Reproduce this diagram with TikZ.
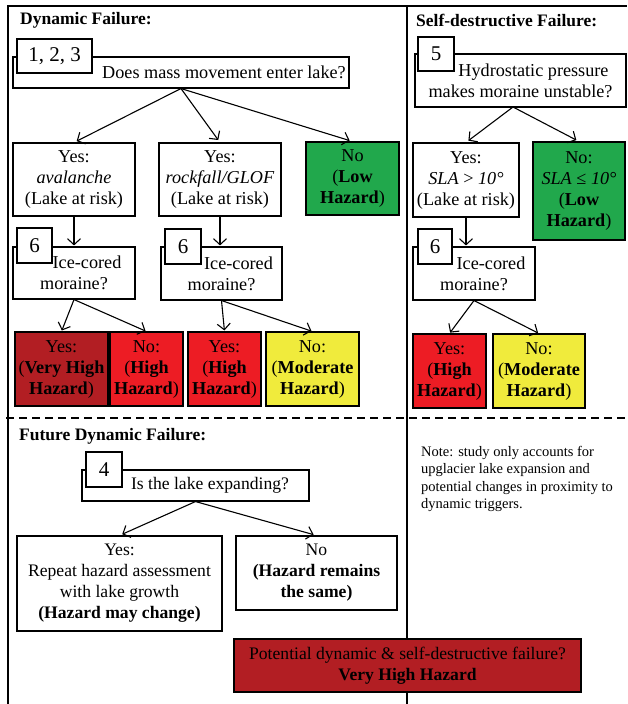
\documentclass[tikz,border=0pt]{standalone}
\usepackage{fontspec}
\setmainfont{Liberation Serif}
\usetikzlibrary{arrows.meta}
\definecolor{dred}{HTML}{B21E23}
\definecolor{hred}{HTML}{ED1C24}
\definecolor{lgreen}{HTML}{21A84C}
\definecolor{myellow}{HTML}{F0EB3C}
\newcommand\fsbox{\fontsize{18.2}{21}\selectfont}
\newcommand\fsboxb{\fontsize{17.6}{21}\selectfont}
\newcommand\fsnum{\fontsize{21}{22}\selectfont}
\newcommand\fshead{\fontsize{17.5}{21}\selectfont\bfseries}
\newcommand\fsnote{\fontsize{14.5}{17.5}\selectfont}
\begin{document}
\begin{tikzpicture}[x=1pt,y=-1pt,
  box/.style={draw=black, line width=1.1pt, fill=white, inner sep=0pt, align=center, font=\fsbox},
  boxb/.style={box, font=\fsboxb},
  numbox/.style={draw=black, line width=2.8pt, fill=white, inner sep=0pt, font=\fsnum},
  head/.style={anchor=west, inner sep=0pt, font=\fshead},
  frame/.style={line width=2.4pt},
  arr/.style={line width=1.1pt, -{Straight Barb[length=6pt,width=13pt,line width=1.1pt]}, shorten >=3pt}]
\useasboundingbox (0,0) rectangle (627,704);
% frame
\draw[frame] (8,704) -- (8,6) -- (627,6);
\draw[frame] (407,6) -- (407,704);
\draw[frame, dash pattern=on 8pt off 5pt] (6,418) -- (627,418);
% headers
\node[head] (h1) at (20,20) {Dynamic Failure:};
\node[head] (h2) at (416,20) {Self-destructive Failure:};
\node[head] (h3) at (19,436) {Future Dynamic Failure:};
% dynamic failure
\node[box, minimum width=336pt, minimum height=31pt] (q1) at (181,72.5) {\hspace*{86pt}Does mass movement enter lake?};
\node[numbox, minimum width=75pt, minimum height=34pt] (n123) at (54.5,56) {1, 2, 3};
\node[box, minimum width=122pt, minimum height=73pt] (yA) at (74,179.5) {Yes:\\\textit{avalanche}\\(Lake at risk)};
\node[box, minimum width=122pt, minimum height=73pt] (yR) at (220,179.5) {Yes:\\\textit{rockfall/GLOF}\\(Lake at risk)};
\node[box, fill=lgreen, minimum width=93pt, minimum height=73pt] (noL) at (352.5,178.5) {No\\(\textbf{Low}\\\textbf{Hazard})};
\node[box, minimum width=122pt, minimum height=52pt] (ice1) at (74,273) {\hspace*{26pt}Ice-cored\\moraine?};
\node[numbox, minimum width=35pt, minimum height=35pt] (n6a) at (34.5,245.5) {6};
\node[box, minimum width=121pt, minimum height=53pt] (ice2) at (221.5,273.5) {\hspace*{34pt}Ice-cored\\moraine?};
\node[numbox, minimum width=36pt, minimum height=35pt] (n6b) at (183,246.5) {6};
\node[box, fill=dred, minimum width=93pt, minimum height=74pt] (vh) at (61.5,369) {Yes:\\(\textbf{Very High}\\\textbf{Hazard})};
\node[box, fill=hred, minimum width=73pt, minimum height=74pt] (hA) at (146.5,369) {No:\\(\textbf{High}\\\textbf{Hazard})};
\node[box, fill=hred, minimum width=73pt, minimum height=74pt] (hB) at (224.5,369) {Yes:\\(\textbf{High}\\\textbf{Hazard})};
\node[box, fill=myellow, minimum width=93pt, minimum height=74pt] (mA) at (312.5,369) {No:\\(\textbf{Moderate}\\\textbf{Hazard})};
\draw[arr] (q1.south) -- (yA.north);
\draw[arr] (q1.south) -- (yR.north);
\draw[arr] (q1.south) -- (noL.north);
\draw[arr, shorten >=1pt] (yA.south) -- (yA.south |- ice1.north);
\draw[arr, shorten >=1pt] (yR.south) -- (yR.south |- ice2.north);
\draw[arr, shorten >=1pt] (ice1.south) -- (vh.north);
\draw[arr, shorten >=1pt] (ice1.south) -- (hA.north);
\draw[arr, shorten >=1pt] (ice2.south) -- (hB.north);
\draw[arr, shorten >=1pt] (ice2.south) -- (mA.north);
% self-destructive failure
\node[box, minimum width=211pt, minimum height=53pt] (q5) at (520.5,80.5) {\hspace*{26pt}Hydrostatic pressure\\makes moraine unstable?};
\node[numbox, minimum width=36pt, minimum height=34pt] (n5) at (436,54) {5};
\node[box, minimum width=106pt, minimum height=74pt] (yS) at (466,180) {Yes:\\\textit{SLA} > \textit{10°}\\(Lake at risk)};
\node[box, fill=lgreen, minimum width=92pt, minimum height=98pt] (noS) at (579,191) {No:\\\textit{SLA} ≤ \textit{10°}\\(\textbf{Low}\\\textbf{Hazard})};
\node[box, minimum width=122pt, minimum height=53pt] (ice3) at (474,273.5) {\hspace*{34pt}Ice-cored\\moraine?};
\node[numbox, minimum width=34pt, minimum height=35pt] (n6c) at (435,246.5) {6};
\node[box, fill=hred, minimum width=73pt, minimum height=74pt] (hC) at (449.5,371) {Yes:\\(\textbf{High}\\\textbf{Hazard})};
\node[box, fill=myellow, minimum width=92pt, minimum height=74pt] (mB) at (539,371) {No:\\(\textbf{Moderate}\\\textbf{Hazard})};
\coordinate (q5s) at (513,107);
\draw[arr] (q5s) -- (yS.north);
\draw[arr] (q5s) -- (noS.north);
\draw[arr, shorten >=1pt] (yS.south) -- (yS.south |- ice3.north);
\draw[arr, shorten >=1pt] (ice3.south) -- (hC.north);
\draw[arr, shorten >=1pt] (ice3.south) -- (mB.north);
% future dynamic failure
\node[boxb, minimum width=227pt, minimum height=31pt] (q4) at (195.5,485.5) {\hspace*{29pt}Is the lake expanding?};
\node[numbox, minimum width=36pt, minimum height=35pt] (n4) at (104,469.5) {4};
\node[boxb, minimum width=205pt, minimum height=95pt] (yF) at (119.5,583.5) {Yes:\\Repeat hazard assessment\\with lake growth\\\textbf{(Hazard may change)}};
\node[boxb, minimum width=161pt, minimum height=74pt] (noF) at (316.5,573) {No\\\textbf{(Hazard remains}\\\textbf{the same)}};
\draw[arr] (q4.south) -- (yF.north);
\draw[arr] (q4.south) -- (noF.north);
% note
\node[anchor=north west, inner sep=0pt, align=left, font=\fsnote] (note) at (421,446) {Note: study only accounts for\\upglacier lake expansion and\\potential changes in proximity to\\dynamic triggers.};
% combined
\node[boxb, fill=dred, minimum width=347pt, minimum height=53pt] (vhF) at (407.5,665.5) {Potential dynamic \& self-destructive failure?\\\textbf{Very High Hazard}};
\end{tikzpicture}
\end{document}
